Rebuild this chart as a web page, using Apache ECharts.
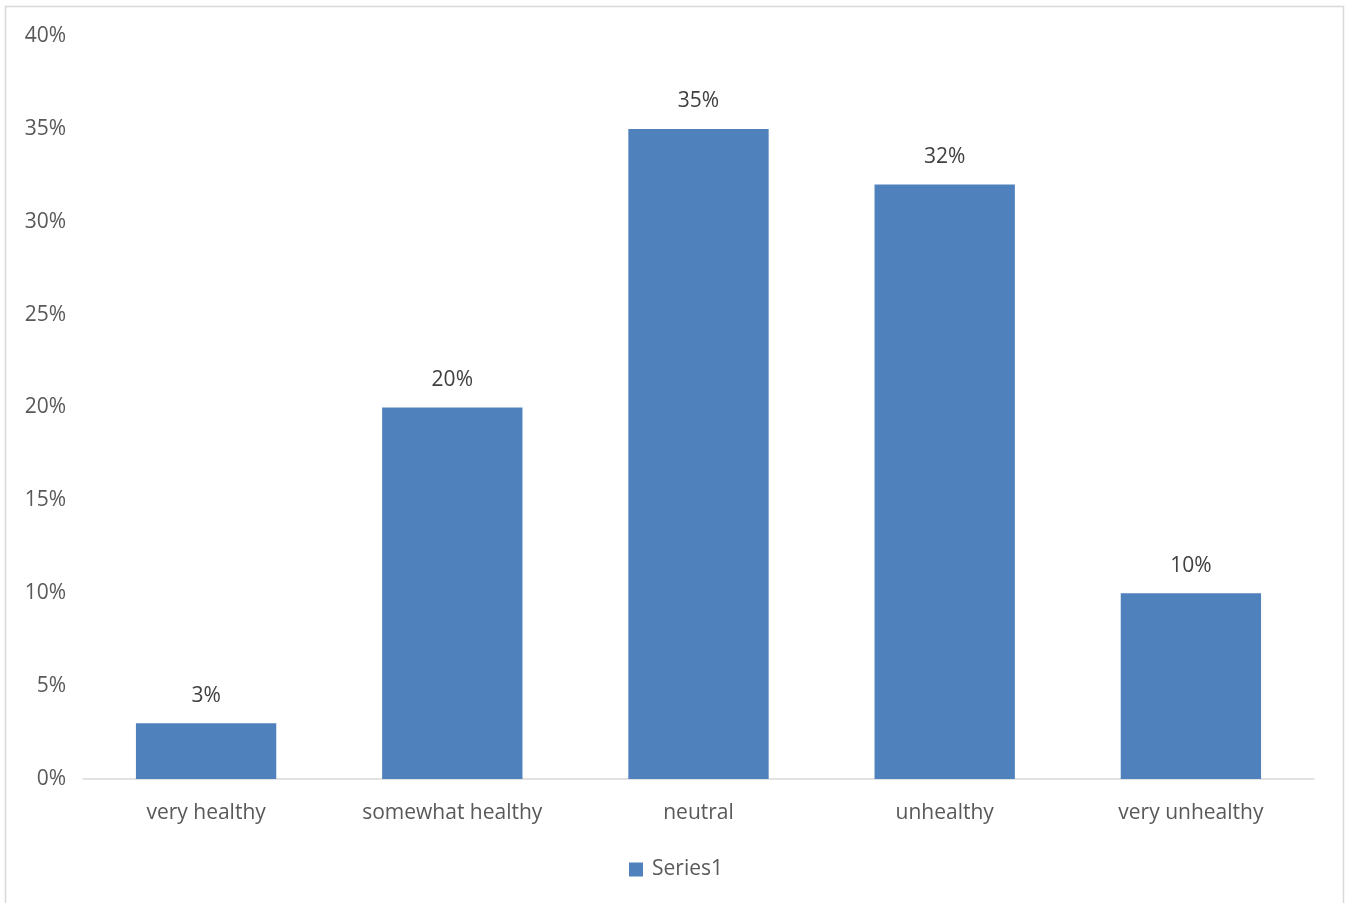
<!DOCTYPE html>
<html>
<head>
<meta charset="utf-8">
<script src="https://cdn.jsdelivr.net/npm/echarts@6/dist/echarts.min.js"></script>
<style>
  html, body { margin: 0; padding: 0; background: #ffffff; }
  #chart { width: 1352px; height: 903px; }
</style>
</head>
<body>
<div id="chart"></div>
<script>
// Share of respondents by how healthy they rate their diet
const categories = ['very healthy', 'somewhat healthy', 'neutral', 'unhealthy', 'very unhealthy'];
const series1 = [3, 20, 35, 32, 10];
const seriesName = 'Series1';
const yTicks = [0, 5, 10, 15, 20, 25, 30, 35, 40];

const FONT = '"Open Sans", Lato, sans-serif';
const TEXT = '#595959';

const chart = echarts.init(document.getElementById('chart'), null, { renderer: 'canvas' });

chart.setOption({
  backgroundColor: '#ffffff',
  animation: false,
  graphic: [{
    type: 'rect',
    shape: { x: 5.5, y: 6.5, width: 1338, height: 920 },
    style: { fill: 'none', stroke: '#d9d9d9', lineWidth: 1.5 },
    silent: true
  }],
  grid: { left: 83, right: 38, top: 36, bottom: 124, containLabel: false },
  legend: {
    data: [seriesName],
    bottom: 18,
    left: 'center',
    icon: 'rect',
    itemWidth: 14,
    itemHeight: 14,
    itemGap: 10,
    textStyle: { fontFamily: FONT, fontSize: 21, color: TEXT, padding: [0, 0, 0, 4] }
  },
  xAxis: {
    type: 'category',
    data: categories,
    axisLine: { lineStyle: { color: '#d9d9d9', width: 1.5 } },
    axisTick: { show: false },
    axisLabel: { fontFamily: FONT, fontSize: 21, color: TEXT, margin: 24 }
  },
  yAxis: {
    type: 'value',
    min: yTicks[0],
    max: yTicks[yTicks.length - 1],
    interval: yTicks[1] - yTicks[0],
    axisLine: { show: false },
    axisTick: { show: false },
    splitLine: { show: false },
    axisLabel: {
      fontFamily: FONT, fontSize: 21, color: TEXT, margin: 17,
      padding: [4, 0, 0, 0],
      formatter: v => v + '%'
    }
  },
  series: [{
    name: seriesName,
    type: 'bar',
    data: series1,
    barWidth: '57%',
    itemStyle: { color: '#4f81bd' },
    label: {
      show: true,
      position: 'top',
      distance: 17,
      fontFamily: FONT,
      fontSize: 21,
      color: '#404040',
      formatter: p => p.value + '%'
    }
  }]
});
</script>
</body>
</html>
